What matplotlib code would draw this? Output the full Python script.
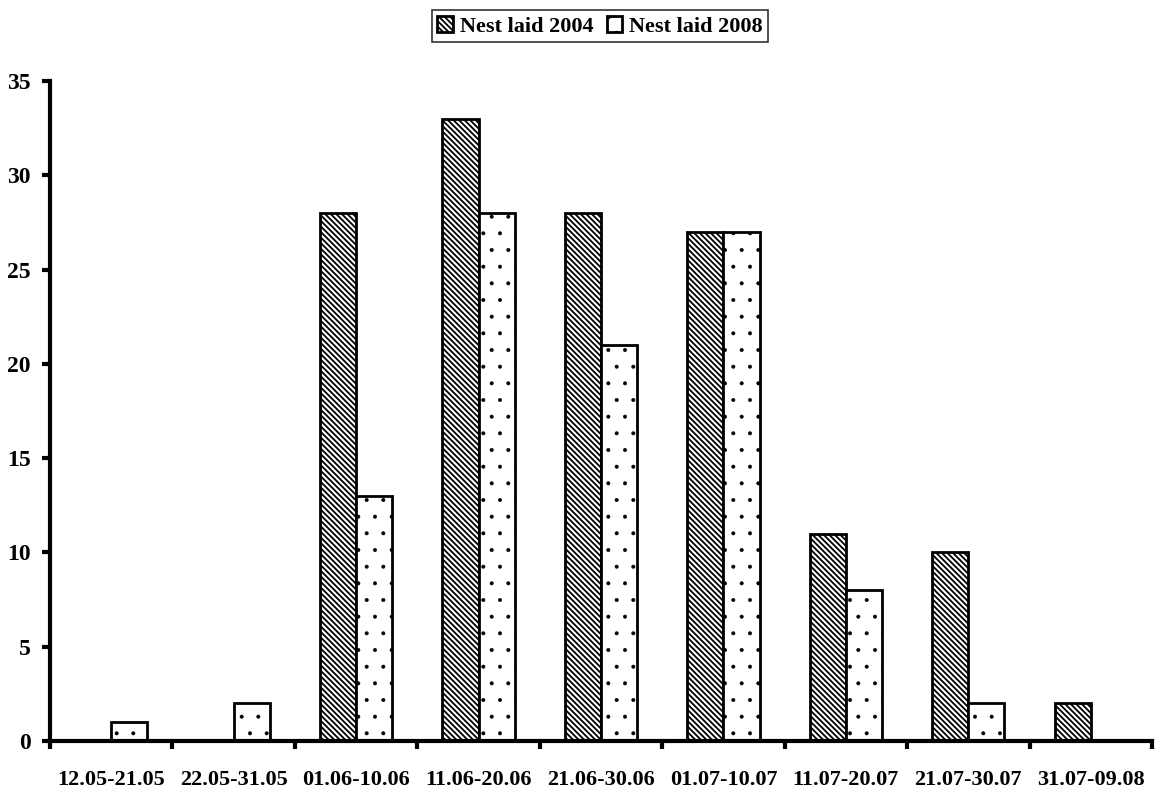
import matplotlib
matplotlib.use("Agg")
import matplotlib.pyplot as plt
import numpy as np

categories = ["12.05-21.05", "22.05-31.05", "01.06-10.06", "11.06-20.06", "21.06-30.06",
              "01.07-10.07", "11.07-20.07", "21.07-30.07", "31.07-09.08"]
nest_2004 = [0, 0, 28, 33, 28, 27, 11, 10, 2]
nest_2008 = [1, 2, 13, 28, 21, 27, 8, 2, 0]
yticks = [0, 5, 10, 15, 20, 25, 30, 35]

plt.rcParams['font.family'] = ['Liberation Serif', 'DejaVu Serif']
plt.rcParams['font.weight'] = 'bold'
plt.rcParams['hatch.linewidth'] = 1.3

fig = plt.figure(figsize=(11.56, 7.92), dpi=100)
ax = fig.add_axes([0.0433, 0.0644, 0.9532, 0.8333])

x = np.arange(len(categories))
w = 0.295
b1 = ax.bar(x - w/2, nest_2004, w, color='white', edgecolor='black', linewidth=2,
            hatch='\\\\\\\\\\\\', label='Nest laid 2004')
b2 = ax.bar(x + w/2, nest_2008, w, color='white', edgecolor='black', linewidth=2,
            hatch='.', label='Nest laid 2008')
for r in b2:
    try:
        r.set_hatch_linewidth(0.4)
    except AttributeError:
        pass
for bars, vals in ((b1, nest_2004), (b2, nest_2008)):
    for r, v in zip(bars, vals):
        if v == 0:
            r.set_linewidth(0)

ax.set_xlim(-0.5, len(categories) - 0.5)
ax.set_ylim(0, 35)
ax.set_yticks(yticks)
ax.set_yticklabels([str(t) for t in yticks], fontsize=17, fontweight='bold')
ax.set_xticks(np.arange(len(categories) + 1) - 0.5)
ax.set_xticklabels([])
ax.set_xticks(x, minor=True)
ax.set_xticklabels(categories, minor=True, fontsize=16, fontweight='bold')
ax.tick_params(axis='x', which='minor', length=0, pad=21)
ax.tick_params(axis='x', which='major', direction='out', length=6, width=3)
ax.tick_params(axis='y', direction='out', length=6, width=3, pad=8)

for s in ['top', 'right']:
    ax.spines[s].set_visible(False)
for s in ['left', 'bottom']:
    ax.spines[s].set_linewidth(3)

leg = ax.legend(handles=[b1[2], b2[0]], labels=['Nest laid 2004', 'Nest laid 2008'],
                loc='center', bbox_to_anchor=(0.499, 1.083), ncol=2, frameon=True,
                fancybox=False, edgecolor='black',
                prop={'family': 'Liberation Serif', 'weight': 'bold', 'size': 16},
                handlelength=0.7, handleheight=0.7, handletextpad=0.3, columnspacing=0.6,
                borderpad=0.25, borderaxespad=0, shadow=False)
leg.get_frame().set_linewidth(1.2)

fig.savefig("out.png", dpi=100)
